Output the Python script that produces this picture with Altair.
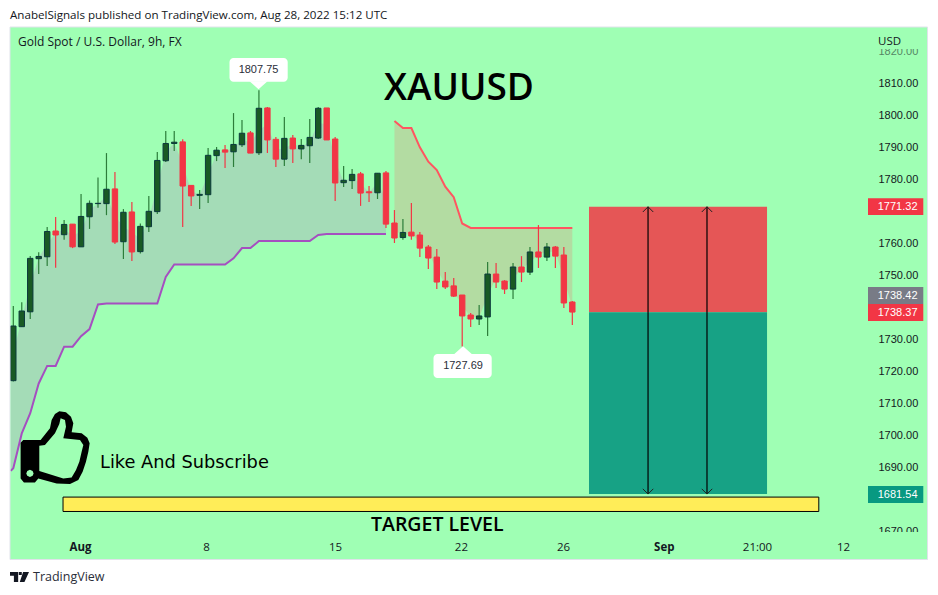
import altair as alt
import pandas as pd

# ---------- values ----------
OPEN = [1716.98,1733.85,1738.5,1755.1,1755.7,1763.75,1762.6,1765.9,1758.8,1768.2,1772.3,1772.3,1776.9,1760.4,1769.7,1757.3,1765.1,1769.8,1785.7,1791.1,1791.6,1778,
        1774.9,1775.1,1787.3,1789.1,1788.5,1790.7,1794.4,1788.2,1802.2,1792.4,1786.2,1792.8,1789.4,1790.4,1792.8,1802.2,1792.5,1778.85,1779.5,1781.6,1776,1775.7,1781.9,
        1766.25,1761.7,1763.4,1762.5,1758.75,1755.6,1748.1,1746.6,1743.75,1737.5,1736.25,1736.9,1750.3,1748.1,1745.6,1752.5,1750.9,1757.2,1755.6,1758.75,1756.25,1741.56]
CLOSE = [1734.06,1738.75,1755.2,1755.8,1763.6,1762.5,1765.8,1758.8,1768.3,1772.4,1772.4,1776.8,1760.3,1769.6,1757.2,1765.2,1769.9,1785.8,1791.1,1791.5,1777.8,1774.7,
         1775.2,1787.4,1789,1788.4,1790.8,1794.3,1788.1,1802.1,1792.2,1786.2,1792.7,1789.4,1790.5,1793,1802.1,1792.2,1778.75,1779.6,1781.45,1775.6,1775.7,1781.8,1765.9,
         1761.56,1763.3,1762.2,1758.4,1755.3,1747.8,1746.25,1743.4,1737.2,1736.25,1737.2,1750.3,1747.8,1745.6,1752.5,1750.9,1757.2,1755.6,1758.75,1755.9,1741.25,1738.42]
HIGH = [1740.3,1741.45,1755.9,1757.1,1765,1768.1,1767.2,1765.9,1775.3,1773.3,1780.5,1788.1,1782.2,1770.6,1772.8,1766.1,1774.7,1788.4,1795,1795,1792.4,1778,
        1776.6,1789.7,1790,1790.6,1800.6,1798.4,1795,1807.75,1802.5,1793.1,1799.4,1793.75,1792.5,1798.75,1802.5,1802.2,1793.1,1784.05,1783.1,1782.2,1777.8,1781.8,1782.5,
        1770.3,1767.5,1772.5,1763.4,1759.4,1758.1,1750.9,1749.06,1743.75,1738.1,1740.6,1754.06,1753.75,1748.4,1753.75,1755.9,1758.75,1765.6,1760,1759.06,1758.75,1741.9]
LOW = [1716.7,1733.85,1736.25,1750.3,1752.8,1752.3,1761,1758.4,1758.8,1764.4,1771,1768.7,1759.7,1755,1754.4,1756.7,1763.4,1769.1,1785.3,1788.75,1765,1771.6,
       1770.6,1772.5,1785.6,1783.4,1783.75,1790,1788.1,1787.5,1788.1,1783.75,1784.1,1785,1786.2,1785,1792.5,1792.2,1773.1,1777.5,1776.9,1771.6,1772.8,1773.75,1764.7,
       1760,1761,1761,1755.6,1751.9,1745.6,1745.6,1743.1,1727.69,1733.75,1734.4,1730.9,1745.9,1744.06,1742.5,1747.8,1750,1752.2,1754.4,1752.2,1739.7,1734.4]
TREND_UP = [1689.6,1700.5,1706.8,1716.1,1721.6,1721.6,1727.6,1727.6,1730.9,1733.1,1740.8,1741.1,1741.1,1741.1,1741.1,1741.1,1741.1,1741.1,1749.4,1753.3,1753.3,1753.3,
            1753.3,1753.3,1753.3,1753.3,1755.2,1758.4,1758.4,1760.6,1760.6,1760.6,1760.6,1760.6,1760.6,1760.6,1762.5,1762.8,1762.8,1762.8,1762.8,1762.8,1762.8,1762.8,1762.8]
TREND_DOWN = [1798.1,1795.9,1795.9,1789.9,1785.4,1782.8,1777.6,1774.3,1766.1,1764.7,1764.7,1764.7,1764.7,1764.7,1764.7,1764.7,1764.7,1764.7,1764.7,1764.7,1764.7,1764.7]
Y_TICKS = [1670,1690,1700,1710,1720,1730,1750,1760,1780,1790,1800,1810,1820]
X_TICKS = [7.87,22.75,37.98,52.85,64.9,76.8,87.8,97.96]
X_LABELS = ["Aug","8","15","22","26","Sep","21:00","12"]
ENTRY, STOP, TARGET = 1738.37, 1771.32, 1681.54
BOX_X = (67.97, 88.99)
ARROW_X = [74.94, 81.9]
YELLOW = dict(x=5.87, x2=95.1, y=1680.6, y2=1676.1)
TAGS = [("1771.32", 1773.97, 1768.75, "#f23645"),
        ("1738.42", 1746.25, 1740.9, "#787b86"),
        ("1738.37", 1740.9, 1735.6, "#f23645"),
        ("1681.54", 1684.06, 1678.75, "#089981")]

PANEL = "#9fffb4"
INK = "#131722"
SANS = "Open Sans"

# ---------- scales (page px = view px + 8) ----------
xs = alt.Scale(domain=[0, 100], range=[5.3, 852.3], nice=False, zero=False, padding=0)
ys = alt.Scale(domain=[1670, 1820], range=[523, 43], nice=False, zero=False)
X = lambda f, **k: alt.X(f, scale=xs, title=None, **k)
Y = lambda f, **k: alt.Y(f, scale=ys, title=None, **k)

n = len(OPEN)
df = pd.DataFrame({"i": range(n), "open": OPEN, "close": CLOSE, "high": HIGH, "low": LOW})
df["mid"] = (df["open"] + df["close"]) / 2
df["up"] = df["close"] >= df["open"]
df["wick"] = df["up"].map({True: "#2c7d3a", False: "#f23645"})
df["body"] = df["up"].map({True: "#195a24", False: "#f23645"})
df["edge"] = df["up"].map({True: "#0b3a3c", False: "#f23645"})

up = pd.DataFrame({"i": [-0.3] + list(range(len(TREND_UP))),
                   "t": [1688.8] + TREND_UP,
                   "m": [df["mid"][0]] + list(df["mid"][:len(TREND_UP)])})
dn = pd.DataFrame({"i": list(range(len(TREND_UP), n)), "t": TREND_DOWN,
                   "m": list(df["mid"][len(TREND_UP):])})

one = alt.Data(values=[{"a": 1}])

def box(px0, px1, py0, py1, color, **k):
    return alt.Chart(one).mark_rect(color=color, **k).encode(
        x=alt.value(px0 - 8), x2=alt.value(px1 - 8), y=alt.value(py0 - 8), y2=alt.value(py1 - 8))

def txt(label, px, py, size=12, color=INK, align="left", font=SANS, weight="normal"):
    return alt.Chart(alt.Data(values=[{"t": label}])).mark_text(
        align=align, baseline="middle", fontSize=size, color=color, font=font, fontWeight=weight
    ).encode(text="t:N", x=alt.value(px - 8), y=alt.value(py - 8))

def icon(path, px, py, size, color, filled=True, width=0):
    return alt.Chart(one).mark_point(shape=path, size=size, filled=filled, color=color,
                                     opacity=1, strokeWidth=width).encode(
        x=alt.value(px - 8), y=alt.value(py - 8))

# ---------- axes ----------
axis_layer = alt.Chart(one).mark_point(opacity=0).encode(
    x=alt.X("a:Q", scale=xs, title=None, axis=alt.Axis(
        orient="bottom", values=X_TICKS, offset=-46, grid=False, ticks=False, domain=False,
        labelPadding=1, labelFont=SANS, labelFontSize=11.5, labelColor=INK, labelOverlap=False,
        labelBound=False, labelFlush=False, zindex=1,
        labelFontWeight=alt.condition("datum.value == 7.87 || datum.value == 76.8", alt.value("bold"), alt.value("normal")),
        labelExpr="%s[indexof(%s, datum.value)]" % (X_LABELS, X_TICKS))),
    y=alt.Y("a:Q", scale=ys, title=None, axis=alt.Axis(
        orient="right", values=Y_TICKS, offset=-52, grid=False, ticks=False, domain=False,
        labelPadding=0, labelFont="Liberation Sans", labelFontSize=11, labelColor=INK, labelOverlap=False,
        labelBound=False, format=".2f", zindex=0)),
)

# ---------- marks ----------
area_up = alt.Chart(up).mark_area(color="#a4dcb7", opacity=1).encode(x=X("i:Q"), y=Y("t:Q"), y2="m:Q")
area_dn = alt.Chart(dn).mark_area(color="#b3dca2", opacity=1).encode(x=X("i:Q"), y=Y("t:Q"), y2="m:Q")
line_up = alt.Chart(up).mark_line(color="#a54fc0", strokeWidth=2).encode(x=X("i:Q"), y=Y("t:Q"))
line_dn = alt.Chart(dn).mark_line(color="#ff5560", strokeWidth=2).encode(x=X("i:Q"), y=Y("t:Q"))
wicks = alt.Chart(df).mark_rule(strokeWidth=1.2).encode(
    x=X("i:Q"), y=Y("low:Q"), y2="high:Q", color=alt.Color("wick:N", scale=None, legend=None))
bodies = alt.Chart(df).mark_bar(size=5.4, strokeWidth=1, orient="vertical").encode(
    x=X("i:Q"), y=Y("open:Q"), y2="close:Q",
    color=alt.Color("body:N", scale=None, legend=None),
    stroke=alt.Stroke("edge:N", scale=None, legend=None))

pos = alt.Data(values=[{"x": BOX_X[0], "x2": BOX_X[1], "s": STOP, "e": ENTRY, "t": TARGET}])
risk = alt.Chart(pos).mark_rect(color="#e55656").encode(x=X("x:Q"), x2="x2:Q", y=Y("s:Q"), y2="e:Q")
reward = alt.Chart(pos).mark_rect(color="#17a285").encode(x=X("x:Q"), x2="x2:Q", y=Y("e:Q"), y2="t:Q")
arrows = pd.DataFrame({"x": ARROW_X, "s": [STOP] * 2, "t": [TARGET] * 2})
shafts = alt.Chart(arrows).mark_rule(color="#000000", strokeWidth=1.2).encode(x=X("x:Q"), y=Y("s:Q"), y2="t:Q")
head_t = alt.Chart(arrows).mark_point(shape="M-1,1L0,0L1,1", size=110, filled=False, color="#222222",
                                      opacity=1, strokeWidth=1).encode(x=X("x:Q"), y=Y("s:Q"))
head_b = alt.Chart(arrows).mark_point(shape="M-1,-1L0,0L1,-1", size=110, filled=False, color="#222222",
                                      opacity=1, strokeWidth=1).encode(x=X("x:Q"), y=Y("t:Q"))
yellow = alt.Chart(alt.Data(values=[YELLOW])).mark_rect(color="#ffed58", stroke="#000000", strokeWidth=1).encode(
    x=X("x:Q"), x2="x2:Q", y=Y("y:Q"), y2="y2:Q")

tag_df = pd.DataFrame(TAGS, columns=["label", "top", "bot", "col"])
tag_df["c"] = (tag_df["top"] + tag_df["bot"]) / 2
tag_boxes = alt.Chart(tag_df).mark_rect().encode(
    x=alt.value(860), x2=alt.value(915.3), y=Y("top:Q"), y2="bot:Q",
    color=alt.Color("col:N", scale=None, legend=None))
tag_text = alt.Chart(tag_df).mark_text(align="right", baseline="middle", fontSize=11, color="white",
                                       font="Liberation Sans").encode(
    x=alt.value(909.5), y=Y("c:Q"), text="label:N")

# thumb icon built as an outline with holes
def scale_pts(pts):
    return [((a - 166) / 110, (b - 533) / 110) for a, b in pts]
def path(pts):
    return "M" + "L".join("%.3f,%.3f" % p for p in scale_pts(pts)) + "Z"
thumb_outer = [(62,518),(70,510),(122,510),(150,475),(155,450),(165,432),(178,424),(198,427),(213,440),(220,460),(215,487),
               (245,490),(262,503),(269,520),(265,545),(258,575),(248,605),(235,630),(210,642),(170,640),(115,625),(105,637),(72,637),(62,625)]
thumb_inner = [(118,603),(190,625),(215,622),(228,600),(238,575),(245,545),(250,525),(240,510),(190,505),(198,470),(195,450),(182,445),(178,462),(165,490),(135,525),(118,527)]
thumb_dot = [(79,610),(82,617),(90,621),(98,617),(101,610),(98,603),(90,599),(82,603)]
THUMB = path(thumb_outer) + path(thumb_inner) + path(thumb_dot)
LOGO = ("M-1,-.52L-.14,-.52L-.14,.52L-.59,.52L-.59,-.14L-1,-.14Z"
        "M-.07,-.52L.24,-.52L.24,-.2L-.07,-.2Z"
        "M.38,-.52L1,-.52L.52,.52L.03,.52Z")
POINTER_UP = "M-1,.45L1,.45L0,-.45Z"
POINTER_DN = "M-1,-.45L1,-.45L0,.45Z"

layers = [
    axis_layer,
    # fade / clip the two outermost price labels
    box(870, 926, 28, 49, PANEL),
    box(870, 926, 49, 55, PANEL, opacity=0.45),
    box(870, 926, 532, 540, PANEL),
    area_up, area_dn, line_up, line_dn, wicks, bodies,
    risk, reward, shafts, head_t, head_b, yellow,
    tag_boxes, tag_text,
    # outside the panel
    box(8, 930, 8, 27, "#ffffff"),
    box(8, 930, 559.5, 590, "#ffffff"),
    box(8, 10, 8, 590, "#ffffff"),
    box(927.5, 930, 8, 590, "#ffffff"),
    box(10, 927.5, 27, 559.5, "#000000", fillOpacity=0, stroke="#e0e3eb", strokeWidth=1),
    # callouts
    box(229.5, 287.7, 58, 81.7, "#ffffff", cornerRadius=4),
    icon(POINTER_DN, 258.5, 85.2, 324, "#ffffff"),
    txt("1807.75", 258.5, 69.5, 11, "#2a2e39", "center", "Liberation Sans"),
    box(433.5, 491.7, 354, 378, "#ffffff", cornerRadius=4),
    icon(POINTER_UP, 463, 350.2, 324, "#ffffff"),
    txt("1727.69", 463, 366, 11, "#2a2e39", "center", "Liberation Sans"),
    # texts
    txt("AnabelSignals published on TradingView.com, Aug 28, 2022 15:12 UTC", 10, 15.8, 11.6),
    txt("Gold Spot / U.S. Dollar, 9h, FX", 18, 42, 12),
    txt("USD", 878, 41.5, 11.5),
    txt("XAUUSD", 384, 89, 37, "#000000", font="Open Sans", weight=600),
    txt("TARGET LEVEL", 371, 525, 19.5, "#000000", font="Open Sans", weight=600),
    txt("Like And Subscribe", 100, 463, 17.8, "#000000", font="DejaVu Sans"),
    icon(THUMB, 55.3, 447.7, 5388, "#000000"),
    icon(LOGO, 19.5, 577, 361, "#131722"),
    txt("TradingView", 33, 577, 12.5, "#2a2e39"),
]

chart = alt.layer(*layers).properties(
    width=922, height=578, padding=0, background="white",
    autosize=alt.AutoSizeParams(type="none"),
).configure_view(fill=PANEL, stroke=None)

chart.save("out.html", embed_options={"renderer": "svg", "actions": False})
